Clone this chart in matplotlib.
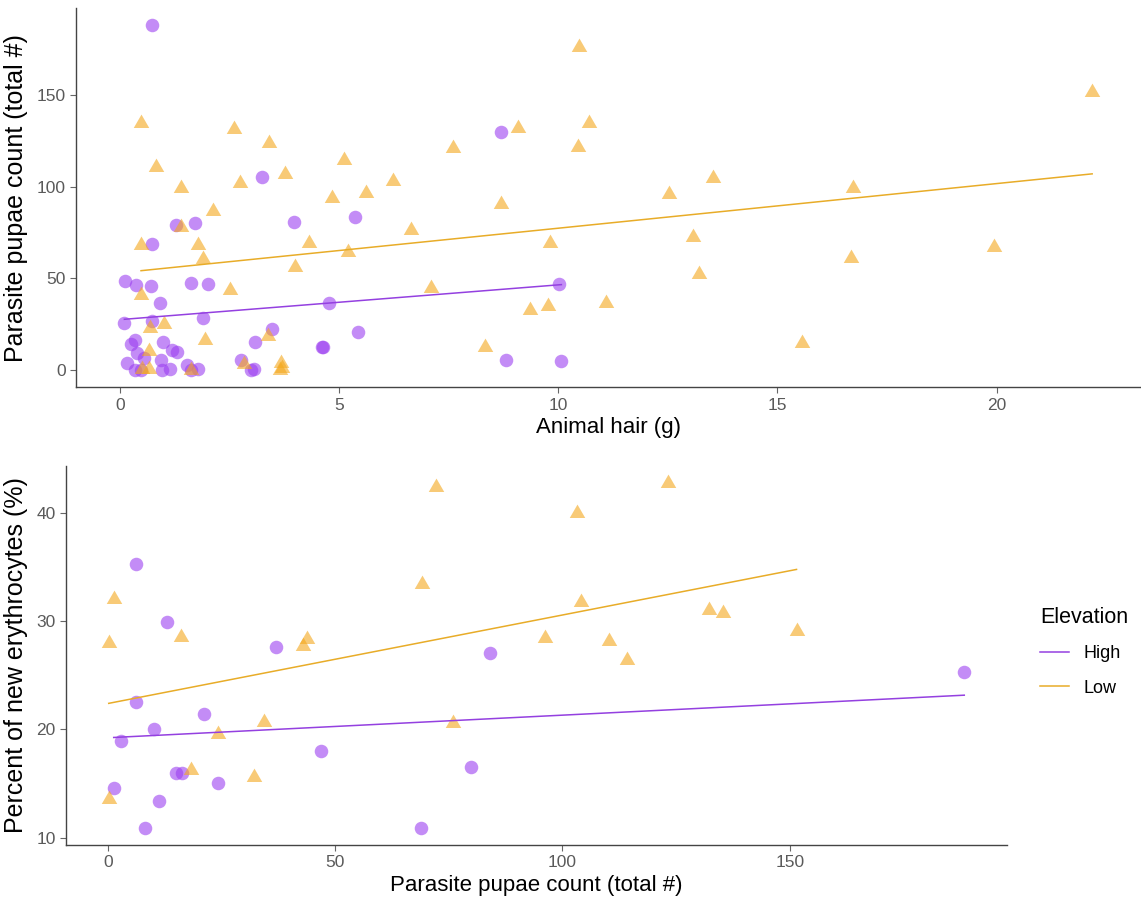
import numpy as np
import matplotlib.pyplot as plt
from matplotlib.lines import Line2D
from matplotlib.path import Path

plt.rcParams['font.family'] = ['Liberation Sans', 'DejaVu Sans']

# Animal hair (g) vs parasite pupae count, high elevation nests
hair_high = [0.73, 3.23, 3.97, 5.37, 1.27, 1.72, 0.74, 0.12, 0.37, 0.71,
             1.63, 2.00, 0.91, 4.77, 0.10, 0.74, 1.90, 5.42, 3.47, 3.07,
             0.35, 0.24, 0.98, 1.18, 1.30, 0.38, 0.55, 0.17, 0.93, 1.54,
             0.35, 0.48, 0.96, 1.15, 1.63, 1.79, 2.75, 2.98, 3.05, 4.61,
             4.63, 8.69, 10.02, 8.80, 10.07]
pupae_high = [188, 105.5, 81, 83.6, 79, 80, 68.8, 48.6, 46.4, 45.9,
              47.7, 46.8, 36.6, 36.6, 25.8, 26.8, 28.5, 20.8, 22.4, 15.1,
              16.6, 14, 15.4, 10.7, 10, 9.5, 6.5, 4, 5.5, 2.6,
              0, 0, 0, 0.7, 0, 0.7, 5.5, 0, 0.7, 12.6,
              12.8, 129.7, 47, 5.5, 4.9]

# same for low elevation nests
hair_low = [0.48, 2.61, 3.39, 7.60, 5.11, 0.83, 3.76, 2.73, 6.22, 1.40,
            4.84, 5.62, 2.13, 1.40, 6.65, 0.48, 1.79, 4.31, 5.21, 1.90,
            3.99, 0.48, 2.52, 7.10, 0.69, 1.01, 1.95, 3.37, 0.67, 0.67,
            0.50, 2.84, 3.67, 3.70, 3.65, 1.63, 10.48, 10.70, 9.08, 10.46,
            13.53, 12.52, 8.69, 9.82, 13.07, 13.21, 9.36, 9.77, 11.08, 8.33,
            15.55, 22.18, 16.72, 16.67, 19.93]
pupae_low = [135, 131.7, 124, 121, 114.8, 111, 107, 102, 103, 99.4,
             94, 96.7, 87, 78, 76.5, 68.3, 68.3, 69.4, 64.5, 60.7,
             56.3, 41, 43.7, 44.8, 23, 25, 16.4, 18.6, 10.4, 0.5,
             0.5, 3.3, 4, 1, 0, 0, 176, 135, 132, 121.8,
             104.9, 96.2, 90.7, 69.4, 72.7, 52.5, 32.8, 35, 36.6, 12.6,
             15, 151.4, 99.4, 61.2, 67.2]

# pupae count vs percent new erythrocytes
count_high = [6.3, 13.0, 37.0, 6.3, 21.2, 10.1, 3.0, 47.0, 14.9, 16.3,
              24.3, 1.3, 11.2, 8.2, 69.0, 84.1, 80.0, 188.4]
eryth_high = [35.25, 29.9, 27.6, 22.5, 21.4, 20.0, 18.9, 18.0, 16.0, 16.0,
              15.0, 14.6, 13.4, 10.9, 10.9, 27.0, 16.5, 25.3]
count_low = [72.1, 123.2, 103.2, 69.1, 104.1, 132.2, 135.4, 151.5, 96.1, 110.2,
             114.1, 75.9, 1.3, 0.2, 16.1, 43.9, 43.0, 34.3, 24.3, 18.3,
             32.2, 0.2]
eryth_low = [42.4, 42.7, 40.0, 33.4, 31.7, 31.0, 30.75, 29.1, 28.4, 28.1,
             26.4, 20.6, 32.0, 28.0, 28.5, 28.3, 27.7, 20.7, 19.6, 16.2,
             15.6, 13.6]

col_high = '#9b3ff0'
col_low = '#f4a81c'
line_high = '#9440e0'
line_low = '#e8ac28'

tri = Path([(0, 1.15), (-1, -0.58), (1, -0.58), (0, 1.15)],
           [Path.MOVETO, Path.LINETO, Path.LINETO, Path.CLOSEPOLY])

fig = plt.figure(figsize=(11.41, 9.09), dpi=100)
ax1 = fig.add_axes([0.0666, 0.574, 0.933, 0.417])
ax2 = fig.add_axes([0.0578, 0.0704, 0.8248, 0.4169])


def panel(ax, xh, yh, xl, yl, xlabel, ylabel, yticks, xticks):
    ax.scatter(xh, yh, s=95, marker='o', color=col_high, alpha=0.6,
               linewidths=0, zorder=2)
    ax.scatter(xl, yl, s=165, marker=tri, color=col_low, alpha=0.6,
               linewidths=0, zorder=2)
    # least-squares trend per group over its own x range
    for x, y, c in ((xh, yh, line_high), (xl, yl, line_low)):
        x = np.asarray(x)
        b, a = np.polyfit(x, y, 1)
        xs = np.array([x.min(), x.max()])
        ax.plot(xs, a + b * xs, color=c, lw=1.1, zorder=3)
    ax.margins(x=0.05, y=0.05)
    for s in ('top', 'right'):
        ax.spines[s].set_visible(False)
    for s in ('left', 'bottom'):
        ax.spines[s].set_color('#444444')
        ax.spines[s].set_linewidth(1.0)
    ax.set_xticks(xticks)
    ax.set_yticks(yticks)
    ax.tick_params(colors='#666666', labelcolor='#5a5a5a', labelsize=12.5,
                   length=4, width=0.8)
    ax.set_xlabel(xlabel, fontsize=16, labelpad=3)
    ax.set_ylabel(ylabel, fontsize=18, labelpad=6)


panel(ax1, hair_high, pupae_high, hair_low, pupae_low,
      'Animal hair (g)', 'Parasite pupae count (total #)',
      [0, 50, 100, 150], [0, 5, 10, 15, 20])
panel(ax2, count_high, eryth_high, count_low, eryth_low,
      'Parasite pupae count (total #)', 'Percent of new erythrocytes (%)',
      [10, 20, 30, 40], [0, 50, 100, 150])

handles = [Line2D([], [], color=line_high, lw=1.1),
           Line2D([], [], color=line_low, lw=1.1)]
leg = fig.legend(handles, ['High', 'Low'], title='Elevation',
                 loc='upper left', bbox_to_anchor=(1024 / 1141, 1 - 591 / 909),
                 frameon=False, fontsize=13, title_fontsize=15.5,
                 handlelength=1.6, labelspacing=0.95, alignment='left')

fig.savefig('out.png', dpi=100, facecolor='white')
